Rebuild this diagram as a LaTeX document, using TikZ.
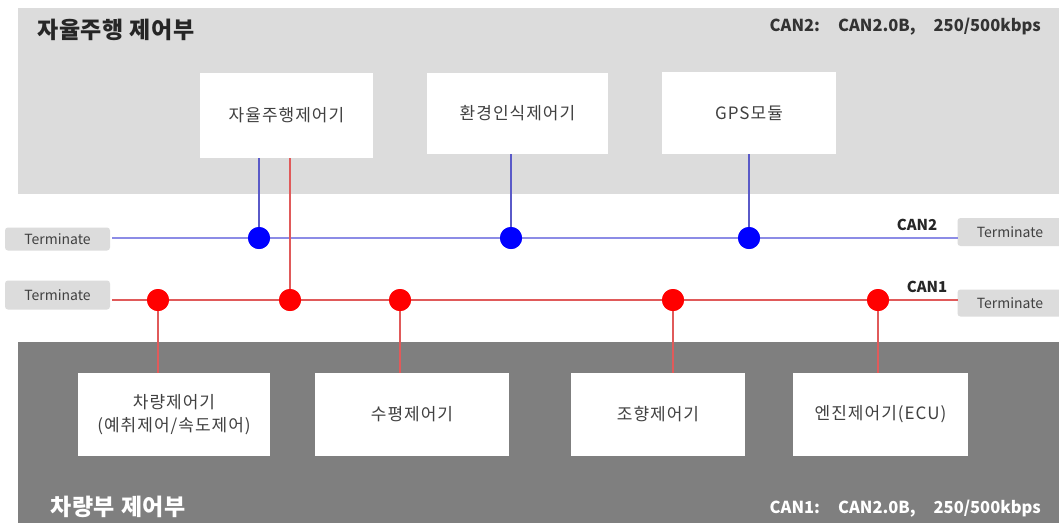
\documentclass[tikz,border=0pt]{standalone}
\usepackage{fontspec}
\setmainfont{Noto Sans CJK KR}
\begin{document}
\begin{tikzpicture}[x=1pt,y=-1pt,
  unit/.style={fill=white,inner sep=0pt,font=\fontsize{17}{23}\selectfont\addfontfeature{LetterSpace=6},text=black!75,align=center},
  term/.style={fill=termgray,rounded corners=3pt,inner sep=0pt,minimum width=105,font=\fontsize{14}{16}\selectfont,text=black!75},
  bdot/.style={circle,fill=blue,inner sep=0pt,minimum size=22},
  rdot/.style={circle,fill=red,inner sep=0pt,minimum size=22},
  bline/.style={draw=canblue,line width=1.6pt},
  bvert/.style={draw=vblue,line width=1.4pt},
  rline/.style={draw=canred,line width=1.4pt},
  title/.style={font=\fontsize{23}{26}\selectfont\bfseries\addfontfeature{LetterSpace=3},anchor=west,inner sep=0pt},
  spec/.style={font=\fontsize{16.5}{18}\selectfont\bfseries,anchor=east,inner sep=0pt},
  canlbl/.style={font=\fontsize{15}{17}\selectfont\bfseries,inner sep=0pt,text=black!85}
]
\definecolor{topgray}{HTML}{DCDCDC}
\definecolor{botgray}{HTML}{7F7F7F}
\definecolor{termgray}{HTML}{DCDCDC}
\definecolor{canblue}{HTML}{8C8CE6}
\definecolor{vblue}{HTML}{5A5AC8}
\definecolor{canred}{HTML}{E05A5A}
\useasboundingbox (0,0) rectangle (1059,523);
\fill[white] (0,0) rectangle (1059,523);
% panels
\fill[topgray] (18,8) rectangle (1059,194);
\fill[botgray] (18,342) rectangle (1059,523);
\node[title,text=black!85] (t1) at (37,30) {자율주행 제어부};
\node[spec,text=black!80] (s2) at (1041,27) {CAN2:\hspace{18pt}CAN2.0B,\hspace{18pt}250/500kbps};
\node[title,text=white] (t2) at (50,507) {차량부 제어부};
\node[spec,text=white] (s1) at (1041,509) {CAN1:\hspace{18pt}CAN2.0B,\hspace{18pt}250/500kbps};
% top units
\node[unit,minimum width=173,minimum height=85] (a1) at (286.5,115.5) {자율주행제어기};
\node[unit,minimum width=181,minimum height=81] (a2) at (517.5,113.5) {환경인식제어기};
\node[unit,minimum width=174,minimum height=82] (a3) at (749,113) {GPS모듈};
% bottom units
\node[unit,minimum width=192,minimum height=83] (b1) at (174,414.5) {차량제어기\\(예취제어/속도제어)};
\node[unit,minimum width=194,minimum height=83] (b2) at (412,414.5) {수평제어기};
\node[unit,minimum width=174,minimum height=83] (b3) at (658,414.5) {조향제어기};
\node[unit,minimum width=175,minimum height=83] (b4) at (880.5,414.5) {엔진제어기(ECU)};
% terminators
\node[term,minimum height=23] (tl2) at (57.5,239) {Terminate};
\node[term,minimum height=29] (tl1) at (57.5,295) {Terminate};
\node[term,minimum height=28] (tr2) at (1010,232) {Terminate};
\node[term,minimum height=27] (tr1) at (1010,303) {Terminate};
% tap points
\coordinate (c2l) at (112,238);
\coordinate (c2r) at (957.5,238);
\coordinate (c1l) at (112,300);
\coordinate (c1r) at (957.5,300);
% CAN2 bus
\draw[bline] (c2l) -- (c2r);
\node[bdot] (p1) at (259,238) {};
\node[bdot] (p2) at (511,238) {};
\node[bdot] (p3) at (749,238) {};
\draw[bvert] (a1.south -| p1) -- (p1.center);
\draw[bvert] (a2.south -| p2) -- (p2.center);
\draw[bvert] (a3.south -| p3) -- (p3.center);
% CAN1 bus
\draw[rline] (c1l) -- (c1r);
\coordinate (q2top) at (290,158);
\node[rdot] (q1) at (158,300) {};
\node[rdot] (q2) at (290,300) {};
\node[rdot] (q3) at (400,300) {};
\node[rdot] (q4) at (673,300) {};
\node[rdot] (q5) at (878,300) {};
\draw[rline] (q2top) -- (q2.center);
\node[rdot] at (q2) {};
\draw[rline] (q1.center) -- (b1.north -| q1);
\draw[rline] (q3.center) -- (b2.north -| q3);
\draw[rline] (q4.center) -- (b3.north -| q4);
\draw[rline] (q5.center) -- (b4.north -| q5);
\node[bdot] at (p1) {};
\node[bdot] at (p2) {};
\node[bdot] at (p3) {};
\node[rdot] at (q1) {};
\node[rdot] at (q3) {};
\node[rdot] at (q4) {};
\node[rdot] at (q5) {};
% bus labels
\node[canlbl] (l2) at (917,225) {CAN2};
\node[canlbl] (l1) at (927,287) {CAN1};
\end{tikzpicture}
\end{document}
